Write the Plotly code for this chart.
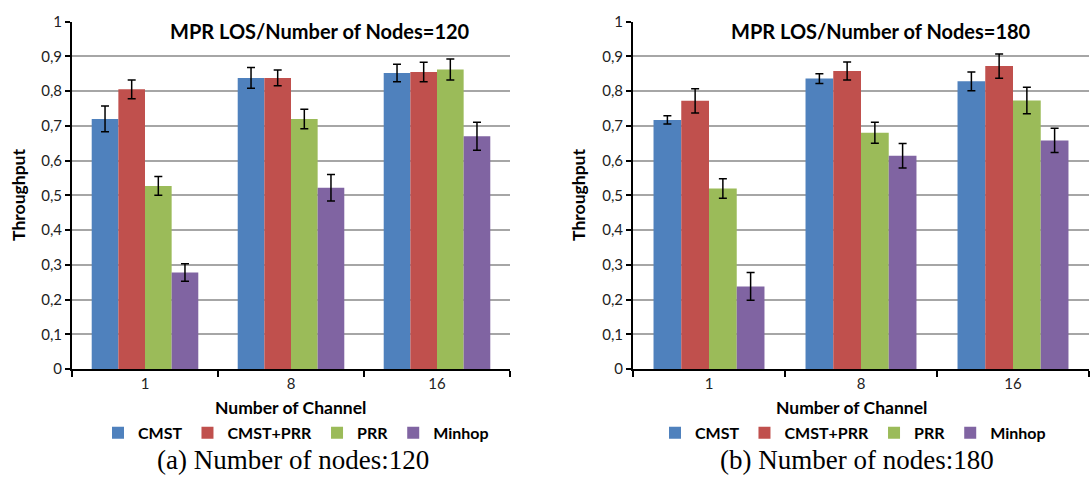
import plotly.graph_objects as go

categories = ["1", "8", "16"]
series_names = ["CMST", "CMST+PRR", "PRR", "Minhop"]
colors = ["#4F81BD", "#C0504D", "#9BBB59", "#8064A2"]

# Panel (a): 120 nodes
a_cmst = [0.720, 0.838, 0.852]
a_cmst_prr = [0.805, 0.838, 0.855]
a_prr = [0.527, 0.720, 0.862]
a_minhop = [0.278, 0.522, 0.670]
a_cmst_err = [0.037, 0.030, 0.025]
a_cmst_prr_err = [0.027, 0.023, 0.028]
a_prr_err = [0.027, 0.028, 0.030]
a_minhop_err = [0.025, 0.038, 0.040]

# Panel (b): 180 nodes
b_cmst = [0.717, 0.836, 0.828]
b_cmst_prr = [0.772, 0.858, 0.872]
b_prr = [0.520, 0.680, 0.773]
b_minhop = [0.238, 0.614, 0.658]
b_cmst_err = [0.012, 0.014, 0.027]
b_cmst_prr_err = [0.035, 0.026, 0.035]
b_prr_err = [0.028, 0.030, 0.038]
b_minhop_err = [0.040, 0.035, 0.035]

y_tickvals = [0, 0.1, 0.2, 0.3, 0.4, 0.5, 0.6, 0.7, 0.8, 0.9, 1.0]
y_ticktext = ["0", "0,1", "0,2", "0,3", "0,4", "0,5", "0,6", "0,7", "0,8", "0,9", "1"]

titles = ["MPR LOS/Number of Nodes=120", "MPR LOS/Number of Nodes=180"]
captions = ["(a) Number of nodes:120", "(b) Number of nodes:180"]

W, H = 1090, 486
FONT = "Lato"

fig = go.Figure()

panels = [
    ([a_cmst, a_cmst_prr, a_prr, a_minhop], [a_cmst_err, a_cmst_prr_err, a_prr_err, a_minhop_err]),
    ([b_cmst, b_cmst_prr, b_prr, b_minhop], [b_cmst_err, b_cmst_prr_err, b_prr_err, b_minhop_err]),
]

for p, (vals, errs) in enumerate(panels):
    xa = "x" if p == 0 else "x2"
    ya = "y" if p == 0 else "y2"
    lg = "legend" if p == 0 else "legend2"
    for name, v, e, c in zip(series_names, vals, errs, colors):
        fig.add_trace(go.Bar(
            x=categories, y=v, name=name, marker=dict(color=c, line=dict(width=0)),
            error_y=dict(type="data", array=e, color="black", thickness=1.5, width=4),
            xaxis=xa, yaxis=ya, legend=lg,
        ))


def px_x(x):
    return x / W


def px_y(y):
    return 1 - y / H


top, bot = 12, 373
xdoms = [(72, 510), (633, 1089)]

axis_common = dict(showline=True, linecolor="black", linewidth=2,
                   tickfont=dict(family=FONT, size=15, color="#222"))
fig.update_layout(
    xaxis=dict(domain=[px_x(xdoms[0][0]), px_x(xdoms[0][1])], anchor="y",
               ticks="outside", tickson="boundaries", ticklen=6, tickwidth=2, tickcolor="black",
               **axis_common),
    xaxis2=dict(domain=[px_x(xdoms[1][0]), px_x(xdoms[1][1])], anchor="y2",
                ticks="outside", tickson="boundaries", ticklen=6, tickwidth=2, tickcolor="black",
                **axis_common),
    yaxis=dict(domain=[px_y(bot), px_y(top)], anchor="x", range=[0, 1],
               tickvals=y_tickvals, ticktext=y_ticktext, ticks="outside", ticklen=5,
               tickwidth=2, tickcolor="black", showgrid=True, gridcolor="#A6A6A6", gridwidth=1.5,
               zeroline=False, **axis_common),
    yaxis2=dict(domain=[px_y(bot), px_y(top)], anchor="x2", range=[0, 1],
                tickvals=y_tickvals, ticktext=y_ticktext, ticks="outside", ticklen=5,
                tickwidth=2, tickcolor="black", showgrid=True, gridcolor="#A6A6A6", gridwidth=1.5,
                zeroline=False, **axis_common),
    barmode="group", bargap=0.27, bargroupgap=0,
    autosize=True, margin=dict(l=0, r=0, t=0, b=0),
    paper_bgcolor="white", plot_bgcolor="white",
    font=dict(family=FONT, color="black"),
    legend=dict(orientation="h", x=px_x(296), y=px_y(439), xanchor="center", yanchor="middle",
                font=dict(family=FONT, size=16, color="black", weight="bold"),
                itemwidth=30, tracegroupgap=0, bgcolor="rgba(0,0,0,0)"),
    legend2=dict(orientation="h", x=px_x(853), y=px_y(439), xanchor="center", yanchor="middle",
                 font=dict(family=FONT, size=16, color="black", weight="bold"),
                 itemwidth=30, tracegroupgap=0, bgcolor="rgba(0,0,0,0)"),
)

ann = []
title_x = [320, 881]
xt_x = [290, 851]
yt_x = [19, 579]
cap_x = [293, 857]
for i in range(2):
    ann.append(dict(text="<b>" + titles[i] + "</b>", x=px_x(title_x[i]), y=px_y(22),
                    xref="paper", yref="paper", showarrow=False, xanchor="center", yanchor="middle",
                    font=dict(family=FONT, size=20, color="black")))
    ann.append(dict(text="<b>Number of Channel</b>", x=px_x(xt_x[i]), y=px_y(413),
                    xref="paper", yref="paper", showarrow=False, xanchor="center", yanchor="middle",
                    font=dict(family=FONT, size=17.5, color="black")))
    ann.append(dict(text="<b>Throughput</b>", x=px_x(yt_x[i]), y=px_y(192), textangle=-90,
                    xref="paper", yref="paper", showarrow=False, xanchor="center", yanchor="middle",
                    font=dict(family=FONT, size=17.5, color="black")))
    ann.append(dict(text=captions[i], x=px_x(cap_x[i]), y=px_y(467),
                    xref="paper", yref="paper", showarrow=False, xanchor="center", yanchor="middle",
                    font=dict(family="Liberation Serif", size=27, color="black")))
fig.update_layout(annotations=ann)

fig.write_html(
    "out.html",
    config={"displayModeBar": False, "responsive": True},
    default_width="100vw",
    default_height="100vh",
    post_script=(
        "document.documentElement.style.margin='0';"
        "document.documentElement.style.overflow='hidden';"
        "document.body.style.margin='0';document.body.style.overflow='hidden';"
        "Plotly.Plots.resize(document.getElementById('{plot_id}'));"
    ),
)
